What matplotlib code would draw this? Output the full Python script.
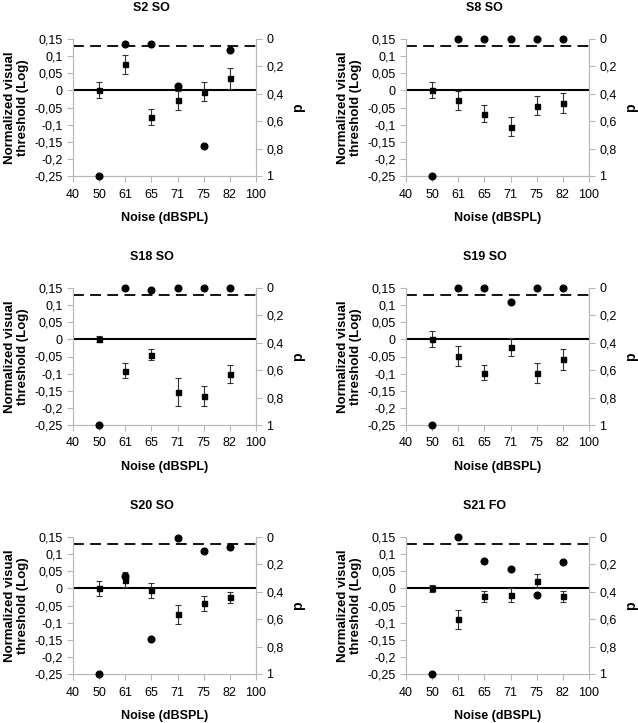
import matplotlib
matplotlib.use("Agg")
import matplotlib.pyplot as plt
from matplotlib.ticker import FuncFormatter

plt.rcParams['font.family'] = ['Liberation Sans', 'DejaVu Sans']

# x axis is categorical: noise levels in dB SPL
tick_labels = ['40', '50', '61', '65', '71', '75', '82', '100']
noise = ['50', '61', '65', '71', '75', '82']

titles = ['S2 SO', 'S8 SO', 'S18 SO', 'S19 SO', 'S20 SO', 'S21 FO']

# normalized visual threshold (log) and its error
s2_thr = [0.0, 0.076, -0.077, -0.029, -0.004, 0.035]
s2_err = [0.023, 0.028, 0.023, 0.027, 0.028, 0.030]
s2_p = [1.0, 0.034, 0.036, 0.345, 0.78, 0.08]

s8_thr = [0.0, -0.029, -0.068, -0.106, -0.045, -0.038]
s8_err = [0.023, 0.028, 0.024, 0.027, 0.028, 0.029]
s8_p = [1.0, 0.0, 0.0, 0.0, 0.0, 0.0]

s18_thr = [0.0, -0.091, -0.045, -0.154, -0.166, -0.102]
s18_err = [0.009, 0.021, 0.016, 0.041, 0.029, 0.026]
s18_p = [1.0, 0.0, 0.017, 0.0, 0.0, 0.0]

s19_thr = [0.0, -0.048, -0.097, -0.022, -0.099, -0.058]
s19_err = [0.023, 0.029, 0.023, 0.027, 0.029, 0.031]
s19_p = [1.0, 0.0, 0.0, 0.102, 0.0, 0.0]

s20_thr = [0.0, 0.025, -0.006, -0.076, -0.044, -0.026]
s20_err = [0.021, 0.022, 0.023, 0.027, 0.021, 0.016]
s20_p = [1.0, 0.286, 0.748, 0.005, 0.105, 0.073]

s21_thr = [0.0, -0.09, -0.023, -0.019, 0.021, -0.023]
s21_err = [0.010, 0.028, 0.016, 0.020, 0.020, 0.016]
s21_p = [1.0, 0.0, 0.174, 0.233, 0.422, 0.179]

thresholds = [s2_thr, s8_thr, s18_thr, s19_thr, s20_thr, s21_thr]
errors = [s2_err, s8_err, s18_err, s19_err, s20_err, s21_err]
pvalues = [s2_p, s8_p, s18_p, s19_p, s20_p, s21_p]

alpha = 0.05

W, H = 638, 723
fig = plt.figure(figsize=(W / 100, H / 100), dpi=100)

col_x = [73, 406]
row_y = [39, 288, 537]
ax_w, ax_h = 183, 137
grey = '#b8b8b8'
fs = 9


def comma(v, pos):
    s = '%g' % round(v, 3)
    return s.replace('.', ',')


for i in range(6):
    r, c = divmod(i, 2)
    x0, y0 = col_x[c], row_y[r]
    ax = fig.add_axes([x0 / W, 1 - (y0 + ax_h) / H, ax_w / W, ax_h / H])
    pos = [tick_labels.index(n) for n in noise]

    ax.set_xlim(0, len(tick_labels) - 1)
    ax.set_ylim(-0.25, 0.15)
    ax.set_xticks(range(len(tick_labels)))
    ax.set_xticklabels(tick_labels)
    ax.set_yticks([0.15, 0.1, 0.05, 0, -0.05, -0.1, -0.15, -0.2, -0.25])
    ax.yaxis.set_major_formatter(FuncFormatter(comma))

    ax.axhline(0, color='black', linewidth=1.5, zorder=2)
    ax.errorbar(pos, thresholds[i], yerr=errors[i], fmt='s', color='black',
                markersize=3.6, elinewidth=0.8, capsize=2.5, capthick=0.8,
                ecolor='#333333', zorder=4)

    ax2 = ax.twinx()
    ax2.set_ylim(1, 0)
    ax2.set_yticks([0, 0.2, 0.4, 0.6, 0.8, 1])
    ax2.yaxis.set_major_formatter(FuncFormatter(comma))
    ax2.axhline(alpha, color='black', linestyle=(0, (6, 3.5)), linewidth=1.3, zorder=2)
    ax2.plot(pos, pvalues[i], 'o', color='black', markersize=4.8, zorder=5, clip_on=False)

    for a in (ax, ax2):
        a.spines['top'].set_visible(False)
        for s in ('left', 'right', 'bottom'):
            a.spines[s].set_color(grey)
            a.spines[s].set_linewidth(0.8)
        a.tick_params(axis='both', colors=grey, labelcolor='black', labelsize=fs,
                      length=4, width=0.8, direction='out')
    ax.tick_params(axis='x', pad=5)

    ax.set_xlabel('Noise (dBSPL)', fontsize=fs, fontweight='bold', labelpad=8)
    ax.set_ylabel('Normalized visual\nthreshold (Log)', fontsize=fs + 0.5,
                  fontweight='bold', linespacing=1.1, labelpad=4)
    ax2.set_ylabel('p', fontsize=fs + 1, fontweight='bold', labelpad=5)

    fig.text((x0 + ax_w / 2 - 13) / W, 1 - (y0 - 31) / H, titles[i],
             ha='center', va='center', fontsize=fs, fontweight='bold')

fig.savefig('out.png', dpi=100)
